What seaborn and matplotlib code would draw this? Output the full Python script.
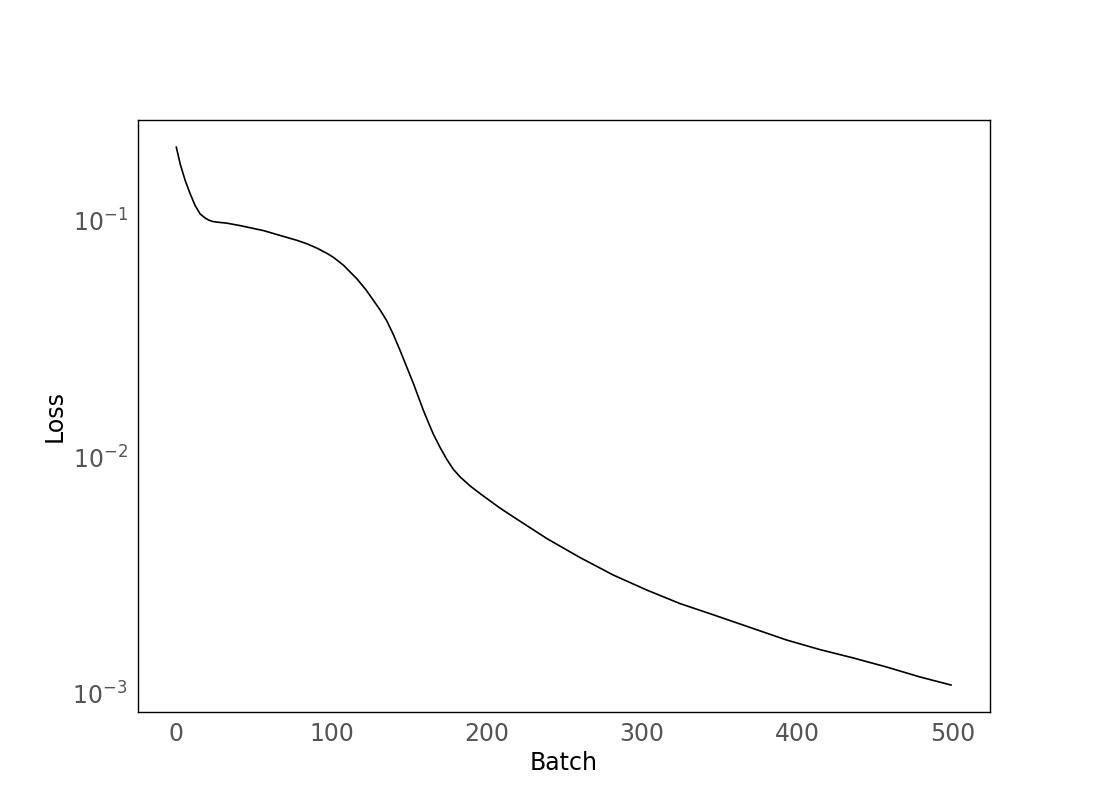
import matplotlib
matplotlib.use("Agg")
import matplotlib.pyplot as plt
import seaborn as sns
import pandas as pd

batch = [0, 2.6, 5.8, 9.0, 12.2, 15.4, 18.7, 21.0, 23.5, 27.0, 32.6, 41.2,
         56.2, 66.9, 77.7, 84.1, 90.5, 97, 101.2, 107.7, 116.3, 122, 127,
         131.3, 135.6, 139.8, 144.1, 148.5, 152.7, 155.9, 159.1, 162.4, 165.6,
         169.9, 174.2, 178.4, 182.8, 189.2, 195.6, 202, 208.5, 217.1, 238.5,
         260, 281.4, 302.9, 324.3, 345.8, 371.5, 393, 414.4, 435.8, 457.3,
         478.8, 499]
loss = [0.205, 0.173, 0.1476, 0.1297, 0.1157, 0.1067, 0.1025, 0.1005, 0.0992,
        0.0985, 0.0976, 0.0953, 0.0908, 0.0866, 0.0826, 0.0799, 0.0766, 0.0728,
        0.0700, 0.0648, 0.0568, 0.0512, 0.0460, 0.0419, 0.0377, 0.0330, 0.0283,
        0.0240, 0.0205, 0.0180, 0.0158, 0.0140, 0.0125, 0.0110, 0.0098, 0.0089,
        0.00826, 0.00757, 0.00703, 0.00655, 0.00610, 0.0056, 0.00454, 0.00377,
        0.00318, 0.00275, 0.00241, 0.00216, 0.00189, 0.00169, 0.00154, 0.00142,
        0.0013, 0.00118, 0.00109]

sns.set_style("white")
plt.rcParams['font.family'] = ['DejaVu Sans']

df = pd.DataFrame({"Batch": batch, "Loss": loss})

fig, ax = plt.subplots(figsize=(11, 8), dpi=100)
fig.subplots_adjust(left=0.125, right=0.9, bottom=0.11, top=0.85)
sns.lineplot(data=df, x="Batch", y="Loss", ax=ax, color="black", linewidth=1.2)
ax.set_yscale("log")
ax.set_xticks([0, 100, 200, 300, 400, 500])
ax.tick_params(axis="both", labelsize=17, labelcolor="#555555", length=0, pad=7)
ax.set_xlabel("Batch", fontsize=17, color="black")
ax.set_ylabel("Loss", fontsize=17, color="black")
for s in ax.spines.values():
    s.set_color("black")
    s.set_linewidth(1.0)
ax.minorticks_off()
fig.savefig("out.png", dpi=100)
